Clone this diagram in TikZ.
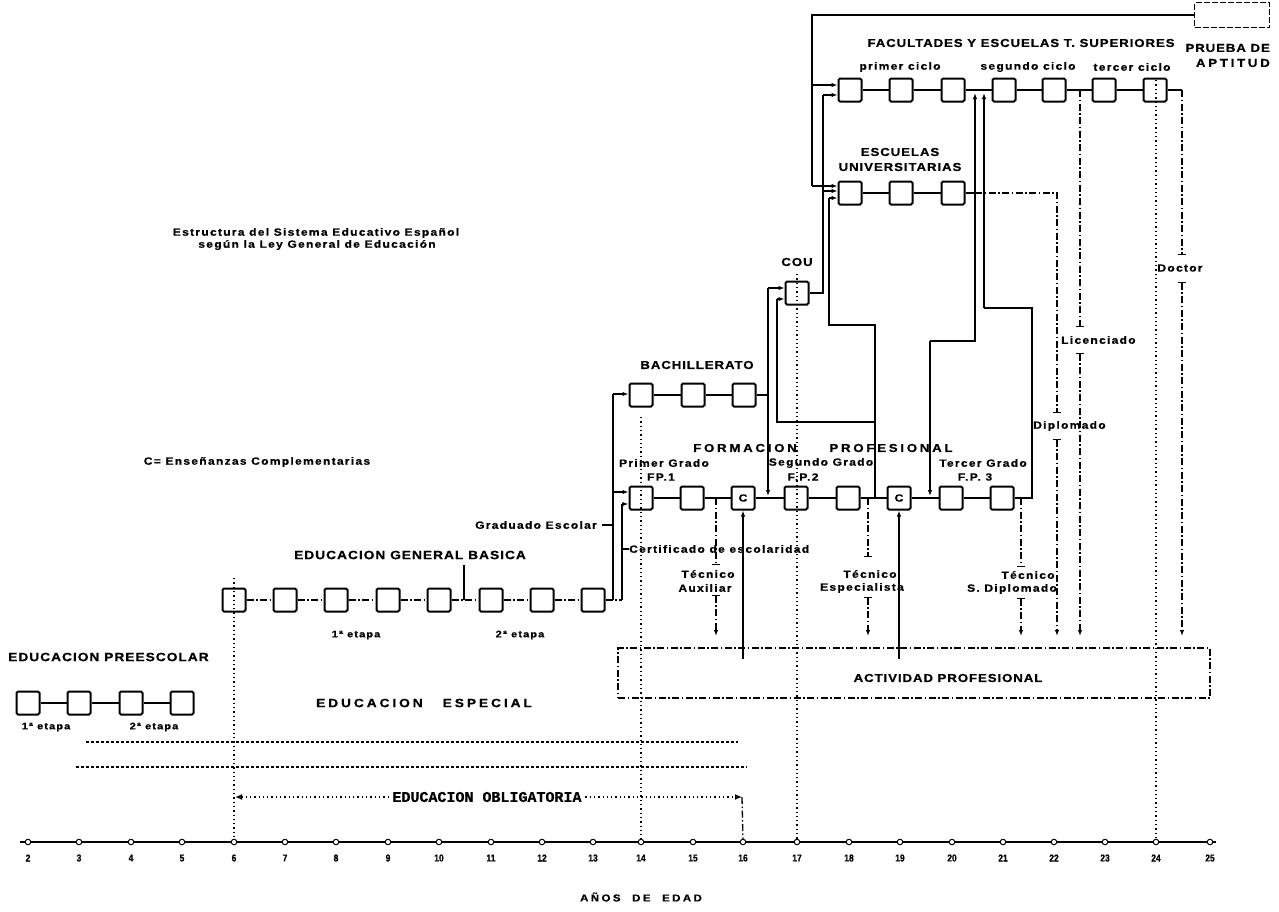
\documentclass[tikz,border=0pt]{standalone}
\usepackage{fontspec}
\setmainfont{Liberation Sans}
\newfontfamily\lbf[FakeStretch=1.15,LetterSpace=8,FakeBold=0.6]{Liberation Sans}
\newfontfamily\lbl[FakeStretch=1.15,LetterSpace=12,FakeBold=0.5]{Liberation Sans}
\newfontfamily\lbw[FakeStretch=1.15,LetterSpace=24,FakeBold=0.6]{Liberation Sans}
\newfontfamily\numf[FakeStretch=0.85,FakeBold=0.5]{Liberation Sans}
\newfontfamily\oblf[FakeBold=0.5]{Liberation Mono}
\usetikzlibrary{arrows.meta}
\tikzset{
  bx/.style={draw,line width=2pt,minimum size=23pt,inner sep=0pt,rounded corners=1.5pt},
  ln/.style={line width=1.6pt},
  dd/.style={line width=1.3pt,dash pattern=on 7pt off 2.5pt on 1.5pt off 2.5pt},
  dt/.style={line width=1.3pt,dash pattern=on 1.3pt off 3pt},
  ar/.style={-{Latex[length=6pt,width=4.5pt]}},
  br/.style={-{Bar[width=8pt]}},
  barar/.style={{Bar[width=8pt]}-{Latex[length=6pt,width=4.5pt]}},
  lab/.style={inner sep=0pt,font=\lbl\bfseries\fontsize{10.5}{12}\selectfont},
  labs/.style={inner sep=0pt,font=\lbl\bfseries\fontsize{9.5}{11}\selectfont},
  captx/.style={inner sep=0pt,font=\lbf\bfseries\fontsize{11.5}{13}\selectfont},
  captl/.style={inner sep=0pt,font=\lbf\bfseries\fontsize{12}{14}\selectfont},
  widetx/.style={inner sep=0pt,font=\lbw\bfseries\fontsize{11.5}{13}\selectfont},
  numtx/.style={inner sep=0pt,font=\numf\bfseries\fontsize{10}{11}\selectfont},
  tickc/.style={circle,draw,fill=white,line width=1pt,inner sep=0pt,minimum size=5.5pt},
}
\begin{document}
\begin{tikzpicture}[x=1pt,y=-1pt]
\useasboundingbox (0,0) rectangle (1279,911);
\fill[white] (0,0) rectangle (1279,911);

% ---------- axis ----------
\draw[line width=2.8pt] (20,842) -- (1216,842);
\foreach \n/\x in {2/28,3/79,4/131,5/182,6/234,7/285,8/336,9/388,10/439,11/491,12/542,13/593,14/641,15/693,16/743,17/797,18/849,19/900,20/952,21/1003,22/1054,23/1105,24/1156,25/1210}{
  \node[tickc] (t\n) at (\x,842) {};
  \node[numtx] (n\n) at (\x,858) {\n};
}
\node[inner sep=0pt,font=\lbw\bfseries\fontsize{10}{11}\selectfont] (anos) at (641,897) {AÑOS\hspace{6pt} DE\hspace{6pt} EDAD};

% ---------- boxes ----------
\foreach \n/\x in {2/28,3/79,4/131,5/182} \node[bx] (p\n) at (\x,703) {};
\foreach \n/\x in {6/234,7/285,8/336,9/388,10/439,11/491,12/542,13/593} \node[bx] (e\n) at (\x,600) {};
\foreach \n/\x in {14/641,15/693,16/744} \node[bx] (b\n) at (\x,395) {};
\node[bx] (cou) at (797,293) {};
\node[bx] (f14) at (641,498) {};
\node[bx] (f15) at (692,498) {};
\node[bx,lab] (c16) at (743,498) {C};
\node[bx] (f17) at (796,498) {};
\node[bx] (f18) at (848,498) {};
\node[bx,lab] (c19) at (899,498) {C};
\node[bx] (f20) at (951,498) {};
\node[bx] (f21) at (1002,498) {};
\foreach \n/\x in {18/850,19/901,20/953,21/1004,22/1054,23/1104,24/1155} \node[bx] (u\n) at (\x,90) {};
\foreach \n/\x in {18/850,19/901,20/953} \node[bx] (s\n) at (\x,193) {};
\node[draw,line width=1.8pt,dash pattern=on 6pt off 2pt,minimum width=75pt,minimum height=25pt,inner sep=0pt] (pa) at (1232,15) {};
\node[draw,dd,line width=1.5pt,minimum width=592pt,minimum height=50pt,inner sep=0pt] (act) at (914,673) {};

% ---------- links between boxes ----------
\draw[ln] (p2)--(p3) (p3)--(p4) (p4)--(p5);
\foreach \a/\b in {6/7,7/8,8/9,9/10,10/11,11/12,12/13} \draw[dd] (e\a)--(e\b);
\draw[ln] (b14)--(b15) (b15)--(b16);
\draw[ln] (f14)--(f15) (f15)--(c16) (c16)--(f17) (f17)--(f18) (f18)--(c19) (c19)--(f20) (f20)--(f21);
\draw[ln] (u18)--(u19) (u19)--(u20) (u20)--(u21) (u21)--(u22) (u22)--(u23) (u23)--(u24);
\draw[ln] (s18)--(s19) (s19)--(s20);

% ---------- dotted age lines ----------
\coordinate (v6) at (234,578);
\coordinate (v14) at (641,417);
\coordinate (v17) at (797,274);
\coordinate (v24) at (1156,80);
\draw[dt] (v6) -- (t6);
\draw[dt] (v14) -- (t14);
\draw[dt] (v17) -- (t17);
\draw[dt] (v24) -- (t24);

% ---------- prueba de aptitud ----------
\coordinate (qa) at (812,15);
\coordinate (qb) at (812,85);
\coordinate (qc) at (812,186);
\draw[ln] (pa.west) -- (qa) -- (qc);
\draw[ln,ar] (qb) -- (qb -| u18.west);
\draw[ln,ar] (qc) -- (qc -| s18.west);

% ---------- COU upward ----------
\coordinate (ca) at (823,293);
\coordinate (cb) at (823,95);
\coordinate (cc) at (823,191);
\draw[ln] (cou.east) -- (ca) -- (cb);
\draw[ln,ar] (cb) -- (cb -| u18.west);
\draw[ln,ar] (cc) -- (cc -| s18.west);

% ---------- FP2 -> escuelas / COU ----------
\coordinate (fa) at (875,498);
\coordinate (fb) at (875,325);
\coordinate (fc) at (829,325);
\coordinate (fd) at (829,198);
\coordinate (fe) at (875,422);
\coordinate (ff) at (777,422);
\coordinate (fg) at (777,299);
\draw[ln] (fa) -- (fb) -- (fc) -- (fd);
\draw[ln,ar] (fd) -- (fd -| s18.west);
\draw[ln] (fe) -- (ff) -- (fg);
\draw[ln,ar] (fg) -- (fg -| cou.west);

% ---------- BUP -> COU / FP2 ----------
\coordinate (ba) at (768,395);
\coordinate (bb) at (768,288);
\coordinate (bc) at (768,496);
\draw[ln] (b16.east) -- (ba) -- (bb);
\draw[ln,ar] (bb) -- (bb -| cou.west);
\draw[ln,ar] (ba) -- (bc);

% ---------- escuelas univ. -> 2o ciclo / FP3 ----------
\coordinate (ea) at (975,193);
\coordinate (eb) at (975,93);
\coordinate (ec) at (975,341);
\coordinate (ed) at (930,341);
\coordinate (ee) at (930,496);
\draw[ln] (s20.east) -- (ea);
\draw[ln,ar] (ea) -- (eb);
\draw[ln] (ea) -- (ec) -- (ed);
\draw[ln,ar] (ed) -- (ee);

% ---------- FP3 -> 2o ciclo ----------
\coordinate (ga) at (1032,498);
\coordinate (gb) at (1032,308);
\coordinate (gc) at (984,308);
\coordinate (gd) at (984,93);
\draw[ln] (f21.east) -- (ga) -- (gb) -- (gc);
\draw[ln,ar] (gc) -- (gd);

% ---------- Diplomado ----------
\coordinate (dpa) at (1057,193);
\coordinate (dpb) at (1057,413);
\coordinate (dpc) at (1057,439);
\coordinate (dpd) at (1057,636);
\draw[dd,br] (ea) -- (dpa) -- (dpb);
\node[lab,anchor=west] (ldip) at (1033,426) {Diplomado};
\draw[dd,barar] (dpc) -- (dpd);

% ---------- Licenciado ----------
\coordinate (lia) at (1080,90);
\coordinate (lib) at (1080,327);
\coordinate (lic) at (1080,353);
\coordinate (lid) at (1080,636);
\draw[dd,br] (lia) -- (lib);
\node[lab,anchor=west] (llic) at (1061,340) {Licenciado};
\draw[dd,barar] (lic) -- (lid);

% ---------- Doctor ----------
\coordinate (doa) at (1182,90);
\coordinate (dob) at (1182,255);
\coordinate (doc) at (1182,282);
\coordinate (dod) at (1182,636);
\draw[ln] (u24.east) -- (doa);
\draw[dd,br] (doa) -- (dob);
\node[lab] (ldoc) at (1180,268) {Doctor};
\draw[dd,barar] (doc) -- (dod);

% ---------- Tecnico auxiliar ----------
\coordinate (taa) at (716,498);
\coordinate (tab) at (716,565);
\coordinate (tac) at (716,595);
\coordinate (tad) at (716,636);
\draw[dd,br] (taa) -- (tab);
\node[lab] (ltax1) at (708,574) {Técnico};
\node[lab] (ltax2) at (705,588) {Auxiliar};
\draw[dd,barar] (tac) -- (tad);

% ---------- Tecnico especialista ----------
\coordinate (tea) at (868,498);
\coordinate (teb) at (868,557);
\coordinate (tec) at (868,597);
\coordinate (ted) at (868,636);
\draw[dd,br] (tea) -- (teb);
\node[lab] (lte1) at (870,574) {Técnico};
\node[lab] (lte2) at (862,588) {Especialista};
\draw[dd,barar] (tec) -- (ted);

% ---------- Tecnico S. diplomado ----------
\coordinate (tsa) at (1021,498);
\coordinate (tsb) at (1021,567);
\coordinate (tsc) at (1021,598);
\coordinate (tsd) at (1021,636);
\draw[dd,br] (tsa) -- (tsb);
\node[lab] (lts1) at (1028,575) {Técnico};
\node[lab] (lts2) at (1012,589) {S. Diplomado};
\draw[dd,barar] (tsc) -- (tsd);

% ---------- actividad -> C ----------
\coordinate (ac1) at (743,659);
\coordinate (ac2) at (899,659);
\draw[ln,ar] (ac1) -- (c16.south);
\draw[ln,ar] (ac2) -- (c19.south);

% ---------- EGB -> BUP / FP1 ----------
\coordinate (ha) at (613,600);
\coordinate (hb) at (613,394);
\coordinate (hc) at (613,492);
\coordinate (hd) at (622,600);
\coordinate (he) at (622,504);
\coordinate (hf) at (622,549);
\coordinate (hg) at (613,525);
\draw[dd] (e13.east) -- (hd);
\draw[ln] (ha) -- (hb);
\draw[ln,ar] (hb) -- (hb -| b14.west);
\draw[ln,ar] (hc) -- (hc -| f14.west);
\draw[ln] (hd) -- (he);
\draw[ln,ar] (he) -- (he -| f14.west);
\node[lab,anchor=east] (lgrad) at (597,525) {Graduado Escolar};
\draw[ln] ([xshift=5pt]lgrad.east) -- (hg);
\node[lab,anchor=west] (lcert) at (629,549) {Certificado de escolaridad};
\draw[ln] (hf) -- (lcert.west);

% ---------- EGB stage tick ----------
\coordinate (sta) at (464,565);
\coordinate (stb) at (464,600);
\draw[ln] (sta) -- (stb);

% ---------- educacion especial / obligatoria ----------
\coordinate (esa) at (86,742);  \coordinate (esb) at (738,742);
\coordinate (esc) at (76,767);  \coordinate (esd) at (747,767);
\draw[line width=2pt,dash pattern=on 3pt off 2pt] (esa) -- (esb);
\draw[line width=2pt,dash pattern=on 3pt off 2pt] (esc) -- (esd);
\coordinate (oL) at (235,797);
\coordinate (oR) at (742,797);
\draw[dt,line width=1.5pt,{Latex[open,length=7pt,width=6pt]}-{Latex[open,length=7pt,width=6pt]}] (oL) -- (oR);
\node[fill=white,inner sep=1pt,font=\oblf\bfseries\fontsize{15}{16}\selectfont] (lobl) at (487,797) {EDUCACION OBLIGATORIA};
\draw[dd] (oR) -- (t16);

% ---------- labels ----------
\node[captx] (lfac) at (1021,43) {FACULTADES Y ESCUELAS T. SUPERIORES};
\node[captx,anchor=east] (lpr1) at (1270,48) {PRUEBA DE};
\node[widetx,anchor=east] (lpr2) at (1270,63) {APTITUD};
\node[lab] (lc1) at (900,67) {primer ciclo};
\node[lab] (lc2) at (1028,67) {segundo ciclo};
\node[lab] (lc3) at (1132,67) {tercer ciclo};
\node[captx] (lesc1) at (900,152) {ESCUELAS};
\node[captx] (lesc2) at (900,167) {UNIVERSITARIAS};
\node[captx] (lcou) at (797,262) {COU};
\node[captx] (lbach) at (697,365) {BACHILLERATO};
\node[widetx] (lfp1) at (745,448) {FORMACION};
\node[widetx] (lfp2) at (891,448) {PROFESIONAL};
\node[lab] (lg1) at (664,463) {Primer Grado};
\node[lab] (lg1b) at (661,477) {FP.1};
\node[lab] (lg2) at (821,463) {Segundo Grado};
\node[lab] (lg2b) at (803,477) {F.P.2};
\node[lab] (lg3) at (983,463) {Tercer Grado};
\node[lab] (lg3b) at (975,477) {F.P. 3};
\node[captx] (lact) at (948,678) {ACTIVIDAD PROFESIONAL};
\node[captl] (legb) at (410,555) {EDUCACION GENERAL BASICA};
\node[labs] (le1) at (356,635) {1ª etapa};
\node[labs] (le2) at (520,635) {2ª etapa};
\node[captl,anchor=west] (lpre) at (8,657) {EDUCACION PREESCOLAR};
\node[labs] (lp1) at (46,727) {1ª etapa};
\node[labs] (lp2) at (154,727) {2ª etapa};
\node[inner sep=0pt,font=\lbw\bfseries\fontsize{12}{14}\selectfont] (lesp) at (424,703) {EDUCACION\hspace{20pt}ESPECIAL};
\node[lab] (lt1) at (316,233) {Estructura del Sistema Educativo Español};
\node[lab] (lt2) at (317,245) {según la Ley General de Educación};
\node[lab] (lcomp) at (257,462) {C= Enseñanzas Complementarias};
\end{tikzpicture}
\end{document}
